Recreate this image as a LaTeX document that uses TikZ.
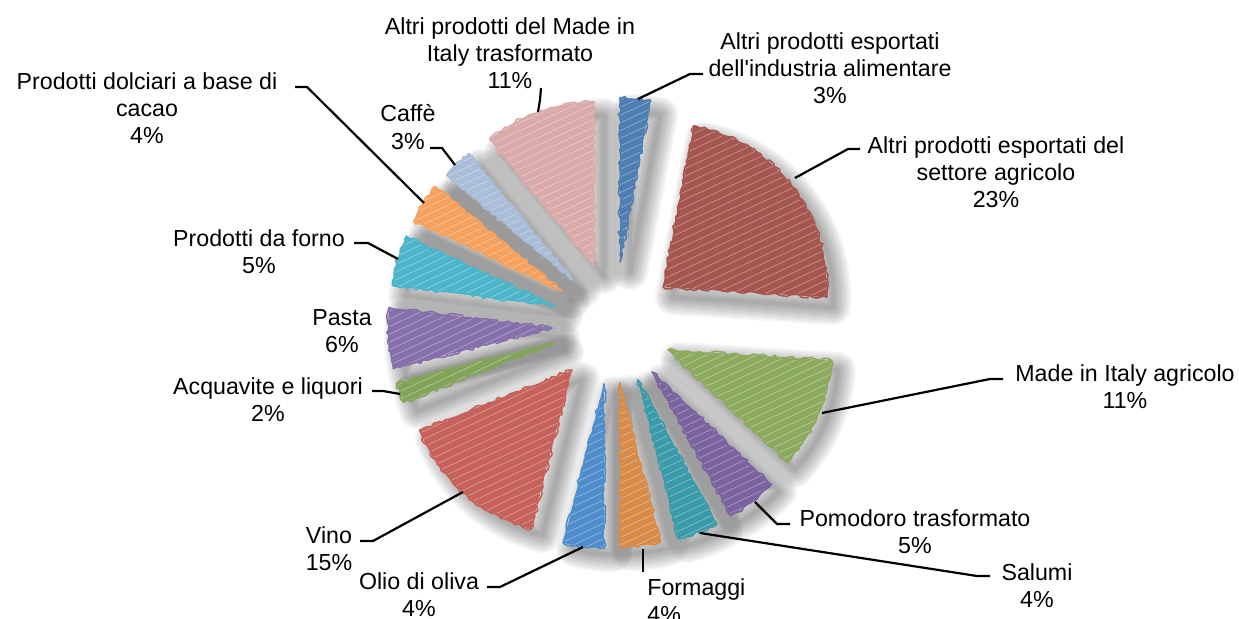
\documentclass[tikz,border=0pt]{standalone}
\usepackage{fontspec}
\setmainfont{Liberation Sans}
\usetikzlibrary{decorations.pathmorphing}

\definecolor{indblue}{HTML}{4F7EB2}
\definecolor{agrred}{HTML}{A5564F}
\definecolor{miagreen}{HTML}{8CAB5F}
\definecolor{pompurple}{HTML}{7A639F}
\definecolor{salteal}{HTML}{3C9BAA}
\definecolor{frmorange}{HTML}{D88C4A}
\definecolor{oliblue}{HTML}{508ECB}
\definecolor{vinred}{HTML}{C6625B}
\definecolor{acqgreen}{HTML}{82A55A}
\definecolor{paspurple}{HTML}{8670AB}
\definecolor{frnteal}{HTML}{4DB5CA}
\definecolor{dolorange}{HTML}{F6A15D}
\definecolor{cafblue}{HTML}{A9BDD8}
\definecolor{mitpink}{HTML}{DBABAA}

\def\slicelist{ind/indblue/620/262/90/79.2, agr/agrred/663/287/79.2/-3.6,
  mia/miagreen/668/350/-3.6/-43.2, pom/pompurple/652/372/-43.2/-61.2,
  sal/salteal/638/380/-61.2/-75.6, frm/frmorange/620/383/-75.6/-90,
  oli/oliblue/604/384/-90/-104.4, vin/vinred/572/370/-104.4/-158.4,
  acq/acqgreen/556/342/-158.4/-165.6, pas/paspurple/552/328/-165.6/-187.2,
  frn/frnteal/555/306/-187.2/-205.2, dol/dolorange/562/291/-205.2/-219.6,
  caf/cafblue/573/280/-219.6/-230.4, mit/mitpink/594/266/-230.4/-270}

\begin{document}
\begin{tikzpicture}[x=0.5pt, y=0.5pt,
    lab/.style = {align=center, inner sep=0pt, font=\fontsize{11.6}{13.6}\selectfont},
    leader/.style = {draw, black, line width=1.1pt},
    blurlayer/.style = {draw=black, opacity=0.045, line join=round}]
  \useasboundingbox (0,0) rectangle (1239,-619);

  \foreach \n/\c/\x/\y/\a/\b in \slicelist {
    \coordinate (\n) at (\x,-\y);
  }

  % shadows
  \foreach \n/\c/\x/\y/\a/\b in \slicelist {
    \foreach \w in {2,4,...,18}
      \path[blurlayer, line width=\w pt] ([shift={(10,-10)}]\n) -- ++(\a:160)
        arc[start angle=\a, end angle=\b, radius=160] -- cycle;
  }

  % slices
  \foreach \n/\c/\x/\y/\a/\b in \slicelist {
    \begin{scope}
      \clip (\n) -- ++(\a:164) arc[start angle=\a, end angle=\b, radius=164] -- cycle;
      \fill[\c] (\n) -- ++(\a:164) arc[start angle=\a, end angle=\b, radius=164] -- cycle;
      \foreach \k in {-168,-161,...,168}
        \draw[white, opacity=0.35, line width=0.35pt, shift={(\n)}] (115:\k) ++(25:-200) -- ++(25:400);
    \end{scope}
    \draw[\c, line width=0.8pt, line join=round, decorate,
      decoration={random steps, segment length=2pt, amplitude=0.9pt}]
      (\n) -- ++(\a:164) arc[start angle=\a, end angle=\b, radius=164] -- cycle;
  }

  % labels
  \node[lab] (lab-ind) at (830,-68) {Altri prodotti esportati\\dell\textquotesingle industria alimentare\\3\%};
  \node[lab] (lab-agr) at (996,-172) {Altri prodotti esportati del\\settore agricolo\\23\%};
  \node[lab] (lab-mia) at (1125,-387) {Made in Italy agricolo\\11\%};
  \node[lab] (lab-pom) at (915,-532) {Pomodoro trasformato\\5\%};
  \node[lab] (lab-sal) at (1037,-586) {Salumi\\4\%};
  \node[lab, align=left, anchor=west] (lab-frm) at (647,-601) {Formaggi\\4\%};
  \node[lab] (lab-oli) at (419,-595) {Olio di oliva\\4\%};
  \node[lab] (lab-vin) at (329,-549) {Vino\\15\%};
  \node[lab] (lab-acq) at (268,-400) {Acquavite e liquori\\2\%};
  \node[lab] (lab-pas) at (342,-331) {Pasta\\6\%};
  \node[lab] (lab-frn) at (259,-252) {Prodotti da forno\\5\%};
  \node[lab] (lab-dol) at (147,-108) {Prodotti dolciari a base di\\cacao\\4\%};
  \node[lab] (lab-caf) at (408,-127) {Caffè\\3\%};
  \node[lab] (lab-mit) at (510,-53) {Altri prodotti del Made in\\Italy trasformato\\11\%};

  % leader lines
  \foreach \n/\px/\py/\ex/\ey/\sx/\sy in {ind/638/99/690/74/703/74, agr/795/178/848/149/860/149,
      mia/822/413/990/379/1003/379, pom/755/502/777/524/790/524, sal/700/533/977/576/990/576,
      frm/643/549/643/560/643/572, oli/583/547/500/587/487/587, vin/463/492/373/541/360/541,
      acq/400/394/383/391/372/391, frn/398/259/368/243/354/243, dol/424/203/307/87/295/87,
      caf/455/165/442/148/430/148, mit/538/112/540/100/541/88} {
    \coordinate (\n-p) at (\px,-\py);
    \coordinate (\n-e) at (\ex,-\ey);
    \coordinate (\n-s) at (\sx,-\sy);
    \draw[leader] (\n-p) -- (\n-e) -- (\n-s);
  }
\end{tikzpicture}
\end{document}
